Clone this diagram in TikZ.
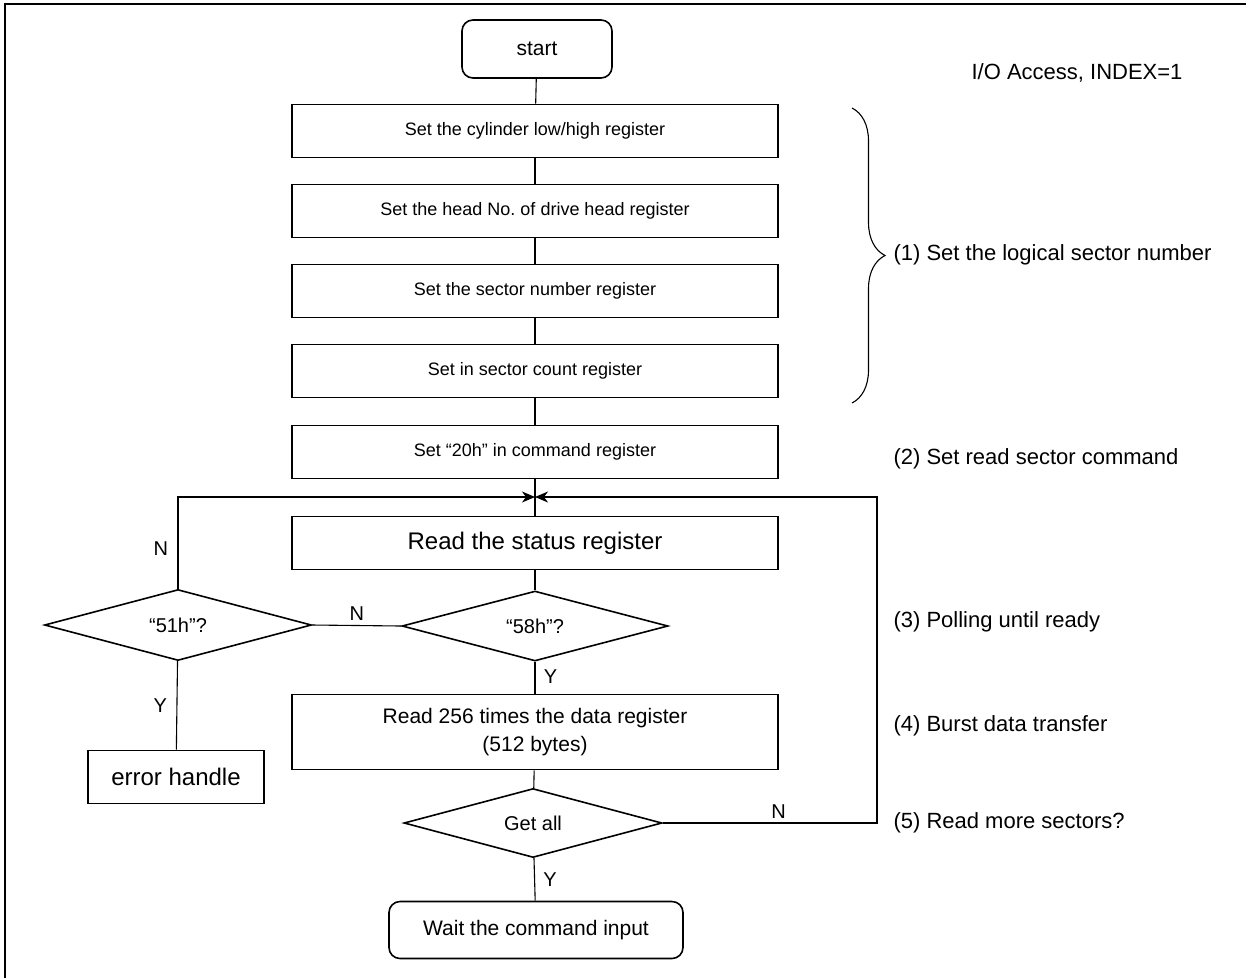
\documentclass[tikz,border=0pt]{standalone}
\usepackage{fontspec}
\setmainfont{Liberation Sans}
\usetikzlibrary{arrows.meta,shapes.geometric,decorations.pathreplacing}

\begin{document}
\frenchspacing
\begin{tikzpicture}[
  x=1pt, y=-1pt,
  font=\fontsize{18}{22}\selectfont,
  stepbox/.style={draw, line width=1.6pt, align=center, minimum width=486pt, minimum height=53pt, inner sep=0pt},
  bigbox/.style={stepbox, font=\fontsize{21}{28}\selectfont},
  term/.style={stepbox, rounded corners=11pt, font=\fontsize{21}{25}\selectfont},
  decision/.style={draw, diamond, line width=1.6pt, aspect=3.8, inner sep=0pt, minimum width=266pt, minimum height=70pt, font=\fontsize{20}{24}\selectfont},
  note/.style={anchor=west, font=\fontsize{22}{26}\selectfont},
  yn/.style={font=\fontsize{20}{24}\selectfont},
  link/.style={line width=1.1pt},
  arrow/.style={link, -{Stealth[length=13pt, width=11pt, inset=4pt]}}
]
\useasboundingbox (0,0) rectangle (1246,978);
\draw[line width=1.6pt] (5,978) -- (5,4) -- (1246,4);

% main column
\node[term, minimum width=150pt, minimum height=58pt] (start) at (537,49) {start};
\node[stepbox] (cyl) at (535,131) {Set the cylinder low/high register};
\node[stepbox] (head) at (535,211) {Set the head No. of drive head register};
\node[stepbox] (sec) at (535,291) {Set the sector number register};
\node[stepbox] (cnt) at (535,371) {Set in sector count register};
\node[stepbox] (cmd) at (535,452) {Set “20h” in command register};
\coordinate (merge) at (535,497);
\node[bigbox, font=\fontsize{24}{28}\selectfont] (status) at (535,543) {Read the status register};
\node[decision] (chk58) at (535,626) {“58h”?};
\node[bigbox, minimum height=75pt] (burst) at (535,732) {Read 256 times the data register\\(512 bytes)};
\node[decision, minimum width=258pt, minimum height=69pt] (getall) at (533,823) {Get all};
\node[term, minimum width=294pt, minimum height=57pt] (wait) at (536,930) {Wait the command input};

% error branch
\node[decision, minimum width=267pt, minimum height=71pt] (chk51) at (178,625) {“51h”?};
\node[stepbox, font=\fontsize{24}{28}\selectfont, minimum width=176pt] (errh) at (176,777) {error handle};
\coordinate (back) at (877,497);

\draw[link] (start) -- (cyl);
\draw[link] (cyl) -- (head);
\draw[link] (head) -- (sec);
\draw[link] (sec) -- (cnt);
\draw[link] (cnt) -- (cmd);
\draw[link] (cmd) -- (status);
\draw[link] (status) -- (chk58);
\draw[link] (chk58) -- node[yn, pos=0.45, right=5pt] {Y} (burst);
\draw[link] (chk58.west) -- node[yn, above=1pt] {N} (chk51.east);
\draw[link] (chk51) -- node[yn, pos=0.5, left=6pt] {Y} (errh);
\draw[link] (burst) -- (getall);
\draw[link] (getall) -- node[yn, pos=0.5, right=5pt] {Y} (wait);
\draw[arrow] (chk51.north) |- node[yn, pos=0.22, left=6pt] {N} (merge);
\draw[arrow] (getall.east) -| node[yn, pos=0.27, above=1pt] {N} (back) -- (merge);

% brace and notes
\draw[line width=1.1pt, decorate, decoration={brace, amplitude=33pt}] (852,108) -- (852,403);
\node[note, anchor=east] (io) at (1186,73) {I/O Access, INDEX=1};
\node[note] (n1) at (890,255) {(1) Set the logical sector number};
\node[note] (n2) at (890,459) {(2) Set read sector command};
\node[note] (n3) at (890,622) {(3) Polling until ready};
\node[note] (n4) at (890,726) {(4) Burst data transfer};
\node[note] (n5) at (890,823) {(5) Read more sectors?};
\end{tikzpicture}
\end{document}
